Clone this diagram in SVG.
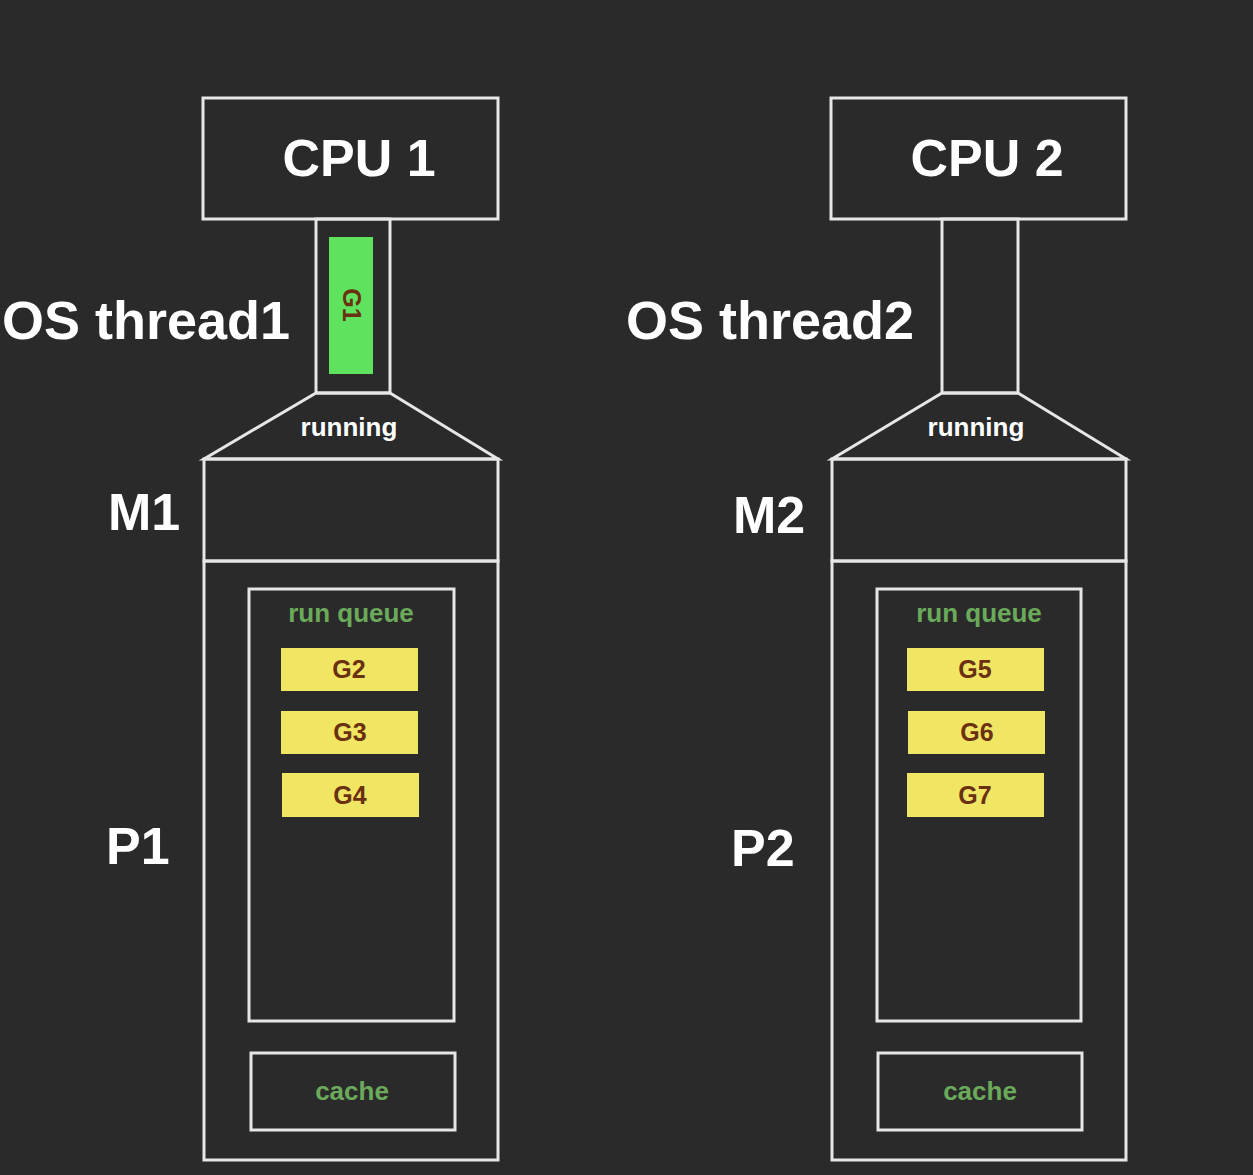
<svg xmlns="http://www.w3.org/2000/svg" width="1253" height="1175" viewBox="0 0 1253 1175">
<style>
.bg{fill:#2a2a2a}
.box{fill:none;stroke:#e6e6e6;stroke-width:3}
.big{font-family:"Liberation Sans",Arial,sans-serif;font-weight:bold;font-size:52px;fill:#ffffff}
.os{font-size:54px}
.run{font-family:"Liberation Sans",Arial,sans-serif;font-weight:bold;font-size:26px;fill:#ffffff;text-anchor:middle}
.grn{font-family:"Liberation Sans",Arial,sans-serif;font-weight:bold;font-size:26px;fill:#6aaa5a;text-anchor:middle}
.g{fill:#f0e663}
.gt{font-family:"Liberation Sans",Arial,sans-serif;font-weight:bold;font-size:25px;fill:#6a3012;text-anchor:middle}
.g1{fill:#5fe35f}
</style>
<rect class="bg" x="0" y="0" width="1253" height="1175"/>
<g id="labels">
<text class="big os" x="2" y="339">OS thread1</text>
<text class="big os" x="626" y="339">OS thread2</text>
<text class="big" x="108" y="530">M1</text>
<text class="big" x="733" y="533">M2</text>
<text class="big" x="106" y="864">P1</text>
<text class="big" x="731" y="866">P2</text>
</g>
<g id="cpu1">
<rect class="box" x="203" y="98" width="295" height="121"/>
<text class="big" x="359" y="176" text-anchor="middle">CPU 1</text>
</g>
<g id="cpu2">
<rect class="box" x="831" y="98" width="295" height="121"/>
<text class="big" x="987" y="176" text-anchor="middle">CPU 2</text>
</g>
<g id="thread1">
<rect class="box" x="316" y="219" width="74" height="174"/>
<rect class="g1" x="329" y="237" width="44" height="137"/>
<text class="gt" transform="translate(351,305) rotate(90)" y="8" font-size="23">G1</text>
</g>
<g id="thread2">
<rect class="box" x="942" y="219" width="76" height="174"/>
</g>
<g id="m1">
<polygon class="box" points="316,393 390,393 498,459 204,459"/>
<text class="run" x="349" y="436">running</text>
<rect class="box" x="204" y="459" width="294" height="102"/>
</g>
<g id="m2">
<polygon class="box" points="942,393 1018,393 1126,459 832,459"/>
<text class="run" x="976" y="436">running</text>
<rect class="box" x="832" y="459" width="294" height="102"/>
</g>
<g id="p1">
<rect class="box" x="204" y="561" width="294" height="599"/>
<rect class="box" x="249" y="589" width="205" height="432"/>
<text class="grn" x="351" y="622">run queue</text>
<rect class="g" x="281" y="648" width="137" height="43"/>
<text class="gt" x="349" y="678">G2</text>
<rect class="g" x="281" y="711" width="137" height="43"/>
<text class="gt" x="350" y="741">G3</text>
<rect class="g" x="282" y="773" width="137" height="44"/>
<text class="gt" x="350" y="804">G4</text>
<rect class="box" x="251" y="1053" width="204" height="77"/>
<text class="grn" x="352" y="1100">cache</text>
</g>
<g id="p2">
<rect class="box" x="832" y="561" width="294" height="599"/>
<rect class="box" x="877" y="589" width="204" height="432"/>
<text class="grn" x="979" y="622">run queue</text>
<rect class="g" x="907" y="648" width="137" height="43"/>
<text class="gt" x="975" y="678">G5</text>
<rect class="g" x="908" y="711" width="137" height="43"/>
<text class="gt" x="977" y="741">G6</text>
<rect class="g" x="907" y="773" width="137" height="44"/>
<text class="gt" x="975" y="804">G7</text>
<rect class="box" x="878" y="1053" width="204" height="77"/>
<text class="grn" x="980" y="1100">cache</text>
</g>
<g id="connectors"></g>
</svg>
